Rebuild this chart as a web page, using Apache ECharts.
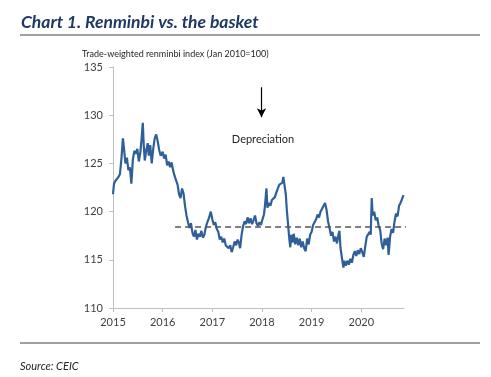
<!DOCTYPE html>
<html>
<head>
<meta charset="utf-8">
<script src="https://cdn.jsdelivr.net/npm/echarts@6/dist/echarts.min.js"></script>
<style>
  html, body { margin: 0; padding: 0; background: #fff; }
  #chart { width: 491px; height: 377px; }
</style>
</head>
<body>
<div id="chart"></div>
<script>
// 时间（小数年）和指数
var years = [
  2015.00, 2015.02, 2015.05, 2015.08, 2015.11, 2015.14, 2015.17, 2015.20, 2015.22, 2015.25,
  2015.28, 2015.31, 2015.34, 2015.37, 2015.40, 2015.43, 2015.46, 2015.49, 2015.52, 2015.55,
  2015.58, 2015.60, 2015.62, 2015.64, 2015.67, 2015.70, 2015.72, 2015.75, 2015.78, 2015.81,
  2015.84, 2015.87, 2015.90, 2015.93, 2015.96, 2016.00, 2016.03, 2016.06, 2016.09, 2016.12,
  2016.15, 2016.18, 2016.21, 2016.24, 2016.27, 2016.30, 2016.33, 2016.36, 2016.39, 2016.42,
  2016.45, 2016.48, 2016.51, 2016.54, 2016.57, 2016.60, 2016.63, 2016.66, 2016.69, 2016.72,
  2016.75, 2016.78, 2016.81, 2016.84, 2016.87, 2016.90, 2016.93, 2016.97, 2017.00, 2017.03,
  2017.06, 2017.09, 2017.12, 2017.15, 2017.18, 2017.21, 2017.24, 2017.27, 2017.30, 2017.33,
  2017.36, 2017.39, 2017.42, 2017.45, 2017.48, 2017.51, 2017.54, 2017.56, 2017.59, 2017.62,
  2017.65, 2017.68, 2017.71, 2017.74, 2017.77, 2017.80, 2017.83, 2017.86, 2017.89, 2017.92,
  2017.95, 2017.98, 2018.01, 2018.04, 2018.06, 2018.09, 2018.11, 2018.14, 2018.17, 2018.20,
  2018.23, 2018.26, 2018.29, 2018.32, 2018.35, 2018.38, 2018.41, 2018.43, 2018.46, 2018.48,
  2018.50, 2018.52, 2018.55, 2018.57, 2018.59, 2018.62, 2018.64, 2018.67, 2018.70, 2018.73,
  2018.76, 2018.79, 2018.82, 2018.85, 2018.88, 2018.91, 2018.94, 2018.97, 2019.00, 2019.03,
  2019.06, 2019.09, 2019.12, 2019.15, 2019.18, 2019.21, 2019.24, 2019.27, 2019.30, 2019.33,
  2019.36, 2019.39, 2019.42, 2019.45, 2019.48, 2019.51, 2019.54, 2019.56, 2019.58, 2019.61,
  2019.64, 2019.66, 2019.69, 2019.72, 2019.75, 2019.78, 2019.81, 2019.84, 2019.87, 2019.90,
  2019.93, 2019.96, 2019.99, 2020.02, 2020.05, 2020.08, 2020.11, 2020.14, 2020.17, 2020.19,
  2020.21, 2020.23, 2020.26, 2020.29, 2020.32, 2020.35, 2020.38, 2020.41, 2020.44, 2020.47,
  2020.50, 2020.53, 2020.55, 2020.58, 2020.61, 2020.64, 2020.67, 2020.70, 2020.73, 2020.76,
  2020.79, 2020.82, 2020.85
];
var rmbIndex = [
  121.8, 122.9, 123.2, 123.0, 123.6, 123.9, 125.5, 127.6, 126.6, 125.0,
  125.6, 124.3, 124.6, 122.9, 125.4, 126.3, 126.0, 126.5, 125.2, 126.1,
  127.8, 129.2, 126.8, 125.3, 126.4, 127.1, 125.8, 126.9, 125.0, 126.5,
  127.6, 128.0, 127.3, 126.4, 125.8, 126.2, 125.5, 125.9, 124.8, 125.2,
  124.6, 125.1, 124.3, 123.7, 123.9, 122.8, 121.8, 121.4, 122.4, 121.9,
  120.6, 119.6, 118.9, 118.3, 118.8, 117.8, 117.4, 118.1, 117.1, 117.7,
  117.4, 118.0, 117.3, 117.6, 118.4, 118.9, 119.3, 120.0, 119.2, 118.6,
  118.9, 118.2, 117.9, 117.1, 117.4, 116.8, 117.2, 116.5, 116.7, 116.2,
  116.5, 115.8, 116.3, 116.9, 116.5, 117.1, 116.7, 116.2, 117.6, 118.5,
  119.0, 118.7, 119.4, 118.8, 119.3, 118.7, 119.1, 119.6, 118.8, 118.5,
  118.9, 118.6, 119.2, 119.7, 120.6, 122.4, 120.4, 120.9, 120.6, 121.2,
  121.0, 121.5, 122.0, 122.4, 122.8, 122.6, 123.0, 123.6, 122.5, 121.8,
  120.2, 119.0, 117.2, 116.3, 117.6, 116.8, 117.7, 116.6, 117.3, 116.5,
  117.2, 116.3, 116.9, 116.2, 115.9, 117.2, 116.6, 117.6, 117.9, 118.6,
  118.4, 119.2, 119.7, 119.4, 120.0, 120.3, 120.1, 120.9, 120.2, 119.0,
  118.3, 117.5, 117.9, 116.9, 117.4, 116.7, 117.6, 118.0, 116.3, 115.2,
  114.2, 114.9, 114.4, 114.9, 114.5, 115.1, 114.7, 115.5, 115.9, 115.4,
  116.0, 115.6, 116.2, 115.8, 115.3, 116.4, 117.4, 117.6, 117.9, 117.6,
  121.4, 119.6, 120.0, 119.1, 119.4, 118.5, 118.1, 116.7, 116.1, 117.2,
  116.5, 117.3, 115.5, 117.4, 118.2, 117.8, 119.0, 119.8, 119.5, 120.6,
  120.9, 121.3, 121.7
];
// 虚线（均值）和箭头
var avgLine = [[2016.25, 118.4], [2020.98, 118.4]];
var arrowLine = [[2017.99, 132.9], [2017.99, 129.8]];
var yTicks = [110, 115, 120, 125, 130, 135];

var chart = echarts.init(document.getElementById('chart'), null, { renderer: 'canvas' });

var lineData = years.map(function (y, i) { return [y, rmbIndex[i]]; });

var option = {
  animation: false,
  backgroundColor: '#fff',
  textStyle: { fontFamily: 'Lato' },
  grid: { left: 113, right: 87, top: 67, bottom: 69, containLabel: false },
  xAxis: {
    type: 'value',
    min: 2015,
    max: 2020.86,
    interval: 1,
    axisLine: { lineStyle: { color: '#bfbfbf', width: 1 } },
    axisTick: { show: true, length: 4, lineStyle: { color: '#bfbfbf' } },
    axisLabel: {
      color: '#404040', fontSize: 11, margin: 9,
      showMaxLabel: false,
      formatter: function (v) { return String(Math.round(v)); }
    },
    splitLine: { show: false }
  },
  yAxis: {
    type: 'value',
    min: yTicks[0],
    max: yTicks[yTicks.length - 1],
    interval: 5,
    axisLine: { show: true, lineStyle: { color: '#bfbfbf', width: 1 } },
    axisTick: { show: true, length: 4, lineStyle: { color: '#bfbfbf' } },
    axisLabel: { color: '#404040', fontSize: 11, margin: 10 },
    splitLine: { show: false }
  },
  series: [
    {
      name: 'Trade-weighted renminbi index',
      type: 'line',
      data: lineData,
      showSymbol: false,
      lineStyle: { color: '#2F5F98', width: 2.2 },
      z: 3
    },
    {
      name: 'avg',
      type: 'line',
      data: avgLine,
      clip: false,
      showSymbol: false,
      lineStyle: { color: '#555', width: 1.5, type: [6, 4] },
      z: 4
    },
    {
      name: 'arrow',
      type: 'line',
      data: [],
      markLine: {
        silent: true,
        symbol: ['none', 'arrow'],
        symbolSize: [7, 9],
        label: { show: false },
        lineStyle: { color: '#000', width: 1.2, type: 'solid' },
        data: [[{ coord: arrowLine[0] }, { coord: arrowLine[1] }]]
      }
    }
  ],
  graphic: [
    {
      type: 'text', x: 21, y: 13,
      style: { text: 'Chart 1. Renminbi vs. the basket', fill: '#1F3864',
        font: 'italic bold 17.5px Lato', textBaseline: 'middle' }
    },
    {
      type: 'line', shape: { x1: 20, y1: 35, x2: 480, y2: 35 },
      style: { stroke: '#808080', lineWidth: 1.5 }
    },
    {
      type: 'text', x: 82, y: 50,
      style: { text: 'Trade-weighted renminbi index (Jan 2010=100)', fill: '#262626',
        font: '9px Lato', textBaseline: 'middle' }
    },
    {
      type: 'text', x: 263, y: 134,
      style: { text: 'Depreciation', fill: '#262626', font: '11px Lato',
        textAlign: 'center', textBaseline: 'middle' }
    },
    {
      type: 'line', shape: { x1: 20, y1: 343, x2: 480, y2: 343 },
      style: { stroke: '#808080', lineWidth: 1.5 }
    },
    {
      type: 'text', x: 20, y: 361,
      style: { text: 'Source: CEIC', fill: '#262626', font: 'italic 11px Lato',
        textBaseline: 'middle' }
    }
  ]
};

chart.setOption(option);
</script>
</body>
</html>
